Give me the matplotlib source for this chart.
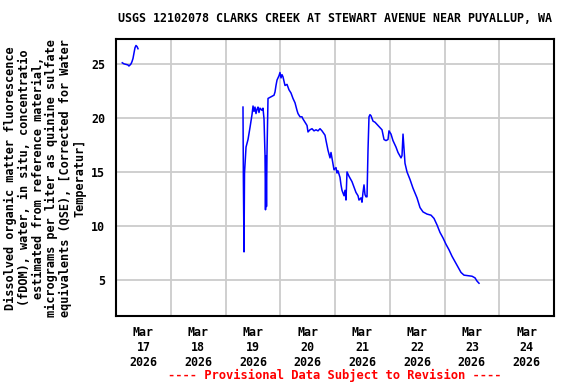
import matplotlib
matplotlib.use("Agg")
import matplotlib.pyplot as plt
import numpy as np
import pandas as pd

# FDOM readings, QSE (gap between segments = missing data)
seg1_times = ["03-17 02:45", "03-17 03:30", "03-17 04:24", "03-17 05:15", "03-17 05:40",
              "03-17 06:10", "03-17 06:35", "03-17 07:00", "03-17 07:27", "03-17 07:53",
              "03-17 08:20", "03-17 08:46", "03-17 09:13", "03-17 09:39"]
seg1_vals = [25.1, 25.0, 24.95, 24.9, 24.8, 24.9, 25.0, 25.2, 25.5, 26.0, 26.5, 26.7, 26.6, 26.4]

seg2_times = ["03-19 07:40", "03-19 07:50", "03-19 08:07", "03-19 08:20", "03-19 09:00",
              "03-19 09:52", "03-19 10:44", "03-19 11:37", "03-19 12:04", "03-19 12:30",
              "03-19 12:56", "03-19 13:22", "03-19 13:49", "03-19 14:15", "03-19 14:41",
              "03-19 15:07", "03-19 16:00", "03-19 16:26", "03-19 16:53", "03-19 17:19",
              "03-19 17:32", "03-19 17:45", "03-19 17:58", "03-19 18:11", "03-19 18:38",
              "03-19 19:31", "03-19 20:23", "03-19 21:16", "03-19 21:42", "03-19 22:08",
              "03-19 22:35", "03-19 23:27", "03-19 23:53", "03-20 00:20", "03-20 00:46",
              "03-20 01:12", "03-20 02:05", "03-20 02:58", "03-20 03:50", "03-20 04:43",
              "03-20 05:35", "03-20 06:28", "03-20 07:20", "03-20 07:47", "03-20 08:40",
              "03-20 09:32", "03-20 09:58", "03-20 10:51", "03-20 11:44", "03-20 12:10",
              "03-20 13:02", "03-20 13:55", "03-20 14:48", "03-20 15:40", "03-20 16:33",
              "03-20 17:26", "03-20 18:18", "03-20 19:37", "03-20 20:04", "03-20 20:56",
              "03-20 21:49", "03-20 22:15", "03-20 23:08", "03-20 23:34", "03-21 00:26",
              "03-21 00:53", "03-21 01:19", "03-21 02:11", "03-21 02:38", "03-21 03:04",
              "03-21 03:57", "03-21 04:23", "03-21 04:49", "03-21 05:16", "03-21 06:08",
              "03-21 07:27", "03-21 08:20", "03-21 09:12", "03-21 10:05", "03-21 10:31",
              "03-21 11:24", "03-21 11:50", "03-21 12:16", "03-21 12:43", "03-21 13:09",
              "03-21 13:35", "03-21 14:02", "03-21 14:28", "03-21 14:54", "03-21 15:20",
              "03-21 15:47", "03-21 16:40", "03-21 17:32", "03-21 18:25", "03-21 19:17",
              "03-21 20:10", "03-21 20:36", "03-21 21:29", "03-21 22:21", "03-21 23:14",
              "03-21 23:40", "03-22 00:33", "03-22 01:25", "03-22 02:44", "03-22 03:37",
              "03-22 04:56", "03-22 05:22", "03-22 05:49", "03-22 06:15", "03-22 06:41",
              "03-22 07:34", "03-22 08:53", "03-22 10:11", "03-22 11:57", "03-22 13:16",
              "03-22 14:35", "03-22 16:20", "03-22 18:05", "03-22 19:24", "03-22 20:43",
              "03-22 22:02", "03-22 23:20", "03-23 00:40", "03-23 01:58", "03-23 03:17",
              "03-23 04:36", "03-23 05:55", "03-23 07:14", "03-23 08:33", "03-23 10:18",
              "03-23 12:04", "03-23 13:22", "03-23 14:15", "03-23 15:08"]
seg2_vals = [21.0, 14.4, 7.6, 14.9, 17.3,
             18.0, 19.1, 20.3, 21.1, 20.6,
             21.0, 20.4, 20.8, 21.0, 20.5,
             20.9, 20.7, 20.9, 19.9, 16.6,
             11.5, 16.5, 11.8, 16.7, 21.8,
             21.9, 22.0, 22.1, 22.4, 23.0,
             23.5, 23.9, 24.2, 23.7, 24.0,
             23.8, 23.0, 23.1, 22.6, 22.3,
             21.8, 21.4, 20.7, 20.4, 20.1,
             20.1, 19.9, 19.6, 19.3, 18.7,
             18.9, 19.0, 18.8, 18.9, 18.8,
             19.0, 18.8, 18.4, 17.9, 17.0,
             16.3, 16.8, 15.7, 15.2, 15.4,
             14.9, 15.1, 14.5, 13.8, 13.3,
             12.8, 13.3, 12.4, 15.0, 14.6,
             14.1, 13.6, 13.1, 12.8, 12.4,
             12.6, 12.2, 13.1, 13.8, 12.9,
             12.7, 12.7, 17.0, 20.1, 20.3,
             20.2, 19.7, 19.6, 19.4, 19.2,
             19.0, 18.9, 18.0, 17.9, 18.0,
             18.8, 18.5, 17.9, 17.3, 16.8,
             16.3, 16.5, 18.5, 17.1, 15.8,
             15.0, 14.3, 13.5, 12.6, 11.7,
             11.3, 11.1, 11.0, 10.7, 10.1,
             9.4, 8.9, 8.3, 7.8, 7.2,
             6.7, 6.2, 5.7, 5.45, 5.4,
             5.35, 5.2, 4.9, 4.7]

day_labels = ["Mar\n17\n2026", "Mar\n18\n2026", "Mar\n19\n2026", "Mar\n20\n2026",
              "Mar\n21\n2026", "Mar\n22\n2026", "Mar\n23\n2026", "Mar\n24\n2026"]
y_ticks = [5, 10, 15, 20, 25]

title = "USGS 12102078 CLARKS CREEK AT STEWART AVENUE NEAR PUYALLUP, WA"
ylabel = ("Dissolved organic matter fluorescence\n(fDOM), water, in situ, concentratio\n"
          "estimated from reference material,\nmicrograms per liter as quinine sulfate\n"
          "equivalents (QSE), [Corrected for Water\nTemperatur]")
footer = "---- Provisional Data Subject to Revision ----"


def to_dt(lst):
    return pd.to_datetime(["2026-" + t for t in lst])


plt.rcParams['font.family'] = ['DejaVu Sans Mono']
plt.rcParams['font.weight'] = 'bold'
plt.rcParams['font.size'] = 8.4

fig = plt.figure(figsize=(5.76, 3.84), dpi=100)
ax = fig.add_axes([116/576, 1 - 316/384, 438/576, 277/384])

ax.plot(to_dt(seg1_times), seg1_vals, color='#0000ff', lw=1.1)
ax.plot(to_dt(seg2_times), seg2_vals, color='#0000ff', lw=1.1)

start = pd.Timestamp("2026-03-17")
ax.set_xlim(start, start + pd.Timedelta(days=8))
ax.set_ylim(1.67, 27.3)

midnights = pd.date_range("2026-03-18", periods=7, freq="D")
noons = pd.date_range("2026-03-17 12:00", periods=8, freq="D")
ax.set_xticks(midnights)
ax.set_xticklabels([])
ax.set_xticks(noons, minor=True)
ax.set_xticklabels(day_labels, minor=True, linespacing=1.2)
ax.tick_params(axis='x', which='both', length=0, pad=7)
ax.set_yticks(y_ticks)
ax.tick_params(axis='y', length=0, pad=8)

ax.grid(True, which='major', color='#cccccc', lw=1.3)
ax.set_axisbelow(True)
for s in ax.spines.values():
    s.set_linewidth(1.5)

fig.text(552/576, 1 - 18/384, title, ha='right', va='center')
fig.text(45/576, 1 - 178/384, ylabel, rotation=90, ha='center', va='center',
         multialignment='center', fontsize=8.6, linespacing=1.08)
fig.text(335/576, 1 - 375/384, footer, ha='center', va='center', color='#ff0000', fontsize=8.7)

fig.savefig("out.png", dpi=100)
